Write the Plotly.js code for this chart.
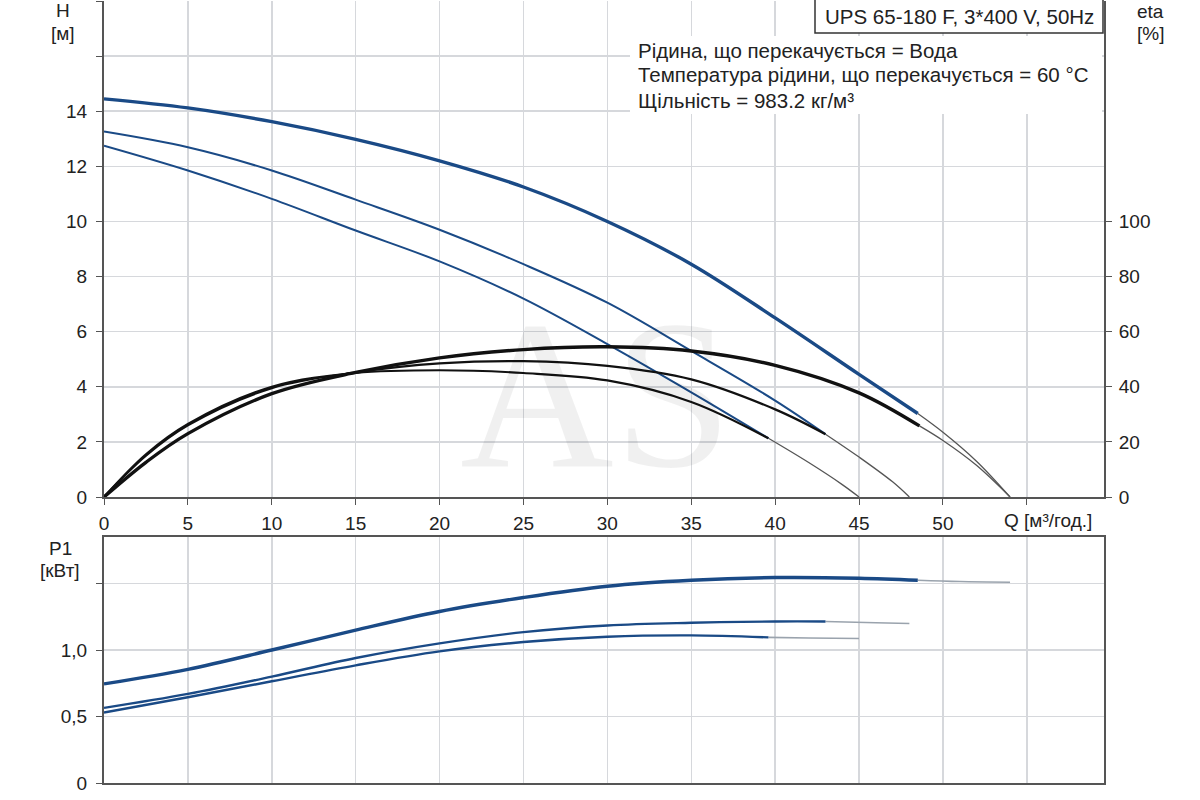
<!DOCTYPE html>
<html>
<head>
<meta charset="utf-8">
<script src="https://cdn.plot.ly/plotly-3.0.1.min.js"></script>
<style>html,body{margin:0;padding:0;background:#fff;}#chart{width:1200px;height:800px;}</style>
</head>
<body>
<div id="chart"></div>
<script>
// ---- Data ----
// Head curves H [m] vs Q [m3/h]
const qH1 = [0, 5, 10, 15, 20, 25, 30, 35, 40, 45, 48.5];
const h1  = [14.45, 14.12, 13.62, 12.98, 12.2, 11.25, 10.0, 8.45, 6.5, 4.45, 3.03];
const qH1ext = [48.5, 50, 52, 54];
const h1ext  = [3.03, 2.35, 1.3, 0];

const qH2 = [0, 5, 10, 15, 20, 25, 30, 35, 40, 43];
const h2  = [13.26, 12.69, 11.85, 10.79, 9.7, 8.45, 7.05, 5.3, 3.5, 2.28];
const qH2ext = [43, 45, 47, 48];
const h2ext  = [2.28, 1.45, 0.55, 0];

const qH3 = [0, 5, 10, 15, 20, 25, 30, 35, 39.6];
const h3  = [12.75, 11.85, 10.82, 9.67, 8.55, 7.2, 5.55, 3.8, 2.13];
const qH3ext = [39.6, 42, 44, 45];
const h3ext  = [2.13, 1.25, 0.45, 0];

// Efficiency curves eta [%]
const qE1 = [0, 2.5, 5, 10, 15, 20, 25, 30, 35, 40, 45, 48.6];
const e1  = [0, 12.6, 23, 37.5, 45.2, 50.5, 53.5, 54.5, 53, 47.8, 37.8, 25.8];
const qE1ext = [48.6, 50, 52, 54];
const e1ext  = [25.8, 20.5, 11.5, 0];

const qE2 = [0, 2.5, 5, 10, 15, 20, 25, 30, 35, 40, 43];
const e2  = [0, 15, 26, 39.5, 45.2, 48.5, 49.3, 47.6, 42.7, 31.8, 22.8];

const qE3 = [0, 2.5, 5, 10, 15, 20, 25, 30, 35, 39.6];
const e3  = [0, 15.5, 26.5, 40, 45, 46, 45, 42.3, 34.5, 21.3];

// Power curves P1 [kW]
const qP1 = [0, 5, 10, 15, 20, 25, 30, 35, 40, 45, 48.5];
const p1  = [0.745, 0.855, 1.0, 1.15, 1.29, 1.395, 1.48, 1.525, 1.545, 1.54, 1.525];
const qP1ext = [48.5, 51, 54];
const p1ext  = [1.525, 1.515, 1.51];

const qP2 = [0, 5, 10, 15, 20, 25, 30, 35, 40, 43];
const p2  = [0.565, 0.67, 0.8, 0.94, 1.05, 1.135, 1.185, 1.205, 1.215, 1.215];
const qP2ext = [43, 46, 48];
const p2ext  = [1.215, 1.205, 1.2];

const qP3 = [0, 5, 10, 15, 20, 25, 30, 35, 39.6];
const p3  = [0.53, 0.645, 0.765, 0.885, 0.99, 1.06, 1.1, 1.11, 1.095];
const qP3ext = [39.6, 42, 45];
const p3ext  = [1.095, 1.09, 1.087];

// Tick labels
const qTicks = [0, 5, 10, 15, 20, 25, 30, 35, 40, 45, 50, 55];
const qTickText = ['0', '5', '10', '15', '20', '25', '30', '35', '40', '45', '50', ''];
const hTicks = [0, 2, 4, 6, 8, 10, 12, 14, 16, 18];
const hTickText = ['0', '2', '4', '6', '8', '10', '12', '14', '', ''];
const etaTicks = [0, 20, 40, 60, 80, 100];
const pTicks = [0, 0.5, 1.0, 1.5];
const pTickText = ['0', '0,5', '1,0', ''];

// ---- Layout helpers ----
const L = 104, R = 1104, T = 1, B = 783;
const px = x => (x - L) / (R - L);
const py = y => (B - y) / (B - T);

const BLUE = '#1a4a86';
const BLACK = '#111111';
const THIN = '#555555';
const THINP = '#9aa3ad';
const FONT = 'Liberation Sans, Arial, sans-serif';
const TXT = '#222222';

function line(x, y, color, width, xa, ya) {
  return {x: x, y: y, type: 'scatter', mode: 'lines', xaxis: xa, yaxis: ya,
          line: {color: color, width: width, shape: 'spline', smoothing: 1},
          hoverinfo: 'skip', showlegend: false};
}

const traces = [
  // thin continuations first
  line(qH1ext, h1ext, THIN, 1.3, 'x', 'y'),
  line(qH2ext, h2ext, THIN, 1.3, 'x', 'y'),
  line(qH3ext, h3ext, THIN, 1.3, 'x', 'y'),
  line(qE1ext, e1ext, THIN, 1.3, 'x', 'y2'),
  // eta curves
  line(qE1, e1, BLACK, 3.4, 'x', 'y2'),
  line(qE2, e2, BLACK, 2.2, 'x', 'y2'),
  line(qE3, e3, BLACK, 2.2, 'x', 'y2'),
  // head curves
  line(qH1, h1, BLUE, 3.4, 'x', 'y'),
  line(qH2, h2, BLUE, 2.0, 'x', 'y'),
  line(qH3, h3, BLUE, 2.0, 'x', 'y'),
  // power curves
  line(qP1ext, p1ext, THINP, 1.6, 'x2', 'y3'),
  line(qP2ext, p2ext, THINP, 1.6, 'x2', 'y3'),
  line(qP3ext, p3ext, THINP, 1.6, 'x2', 'y3'),
  line(qP1, p1, BLUE, 3.4, 'x2', 'y3'),
  line(qP2, p2, BLUE, 2.4, 'x2', 'y3'),
  line(qP3, p3, BLUE, 2.4, 'x2', 'y3')
];

const GRID = '#d6d8dc';
const AX = '#555555';
const tickFont = {family: FONT, size: 19, color: TXT};
const txtFont = {family: FONT, size: 20.5, color: TXT};

const layout = {
  width: 1200, height: 800,
  margin: {l: L, r: 1200 - R, t: T, b: 800 - B, pad: 0},
  paper_bgcolor: '#ffffff', plot_bgcolor: '#ffffff',
  showlegend: false,
  font: {family: FONT, size: 19, color: TXT},
  xaxis: {domain: [0, 1], anchor: 'y', range: [0, 59.6], tickvals: qTicks, ticktext: qTickText,
          showgrid: true, gridcolor: GRID, gridwidth: 1.5, zeroline: false,
          showline: true, linecolor: AX, linewidth: 2, ticks: 'outside', ticklen: 6, tickcolor: AX,
          ticklabelstandoff: 2, tickfont: tickFont, fixedrange: true},
  yaxis: {domain: [py(497), 1], anchor: 'x', range: [0, 18], tickvals: hTicks, ticktext: hTickText,
          showgrid: true, gridcolor: GRID, gridwidth: 1.5, zeroline: false,
          showline: true, linecolor: AX, linewidth: 2, ticks: 'outside', ticklen: 6, tickcolor: AX,
          ticklabelstandoff: 5, tickfont: tickFont, fixedrange: true},
  yaxis2: {overlaying: 'y', side: 'right', anchor: 'x', range: [0, 180], tickvals: etaTicks,
          showgrid: false, zeroline: false,
          showline: true, linecolor: AX, linewidth: 2, ticks: 'outside', ticklen: 6, tickcolor: AX,
          ticklabelstandoff: 3, tickfont: tickFont, fixedrange: true},
  xaxis2: {domain: [0, 1], anchor: 'y3', range: [0, 59.6], tickvals: qTicks, showticklabels: false,
          showgrid: true, gridcolor: GRID, gridwidth: 1.5, zeroline: false,
          showline: true, mirror: true, linecolor: AX, linewidth: 2, ticks: '', fixedrange: true},
  yaxis3: {domain: [0, py(537)], anchor: 'x2', range: [0, 1.85], tickvals: pTicks, ticktext: pTickText,
          showgrid: true, gridcolor: GRID, gridwidth: 1.5, zeroline: false,
          showline: true, mirror: true, linecolor: AX, linewidth: 2, ticks: 'outside', ticklen: 6, tickcolor: AX,
          ticklabelstandoff: 5, tickfont: tickFont, fixedrange: true},
  shapes: [
    // white panel behind the fluid info text
    {type: 'rect', xref: 'paper', yref: 'paper', layer: 'above',
     x0: px(630), x1: px(1102), y0: py(114), y1: py(36),
     line: {width: 0}, fillcolor: '#ffffff'},
    // pump name box
    {type: 'rect', xref: 'paper', yref: 'paper', layer: 'above',
     x0: px(815), x1: px(1103), y0: py(33), y1: py(-2),
     line: {color: '#333333', width: 1.5}, fillcolor: '#ffffff'}
  ],
  annotations: [
    // watermark
    {xref: 'paper', yref: 'paper', x: px(596), y: py(514), text: 'AS', showarrow: false,
     font: {family: 'Liberation Serif, serif', size: 213, color: 'rgba(0,0,0,0.06)'},
     xanchor: 'center', yanchor: 'bottom'},
    {xref: 'paper', yref: 'paper', x: px(959), y: py(16), text: 'UPS 65-180 F, 3*400 V, 50Hz',
     showarrow: false, xanchor: 'center', yanchor: 'middle', font: txtFont},
    {xref: 'paper', yref: 'paper', x: px(636), y: py(50), text: 'Рідина, що перекачується = Вода',
     showarrow: false, xanchor: 'left', yanchor: 'middle', font: txtFont},
    {xref: 'paper', yref: 'paper', x: px(636), y: py(75), text: 'Температура рідини, що перекачується = 60 °C',
     showarrow: false, xanchor: 'left', yanchor: 'middle', font: txtFont},
    {xref: 'paper', yref: 'paper', x: px(636), y: py(100), text: 'Щільність = 983.2 кг/м³',
     showarrow: false, xanchor: 'left', yanchor: 'middle', font: txtFont},
    // axis labels
    {xref: 'paper', yref: 'paper', x: px(63), y: py(11), text: 'H', showarrow: false,
     xanchor: 'center', yanchor: 'middle', font: tickFont},
    {xref: 'paper', yref: 'paper', x: px(63), y: py(33), text: '[м]', showarrow: false,
     xanchor: 'center', yanchor: 'middle', font: tickFont},
    {xref: 'paper', yref: 'paper', x: px(1150), y: py(12), text: 'eta', showarrow: false,
     xanchor: 'center', yanchor: 'middle', font: tickFont},
    {xref: 'paper', yref: 'paper', x: px(1150), y: py(33), text: '[%]', showarrow: false,
     xanchor: 'center', yanchor: 'middle', font: tickFont},
    {xref: 'paper', yref: 'paper', x: px(1048), y: py(520), text: 'Q [м³/год.]', showarrow: false,
     xanchor: 'center', yanchor: 'middle', font: tickFont},
    {xref: 'paper', yref: 'paper', x: px(60), y: py(548), text: 'P1', showarrow: false,
     xanchor: 'center', yanchor: 'middle', font: tickFont},
    {xref: 'paper', yref: 'paper', x: px(60), y: py(570), text: '[кВт]', showarrow: false,
     xanchor: 'center', yanchor: 'middle', font: tickFont}
  ]
};

Plotly.newPlot('chart', traces, layout, {staticPlot: true, displayModeBar: false});
</script>
</body>
</html>
